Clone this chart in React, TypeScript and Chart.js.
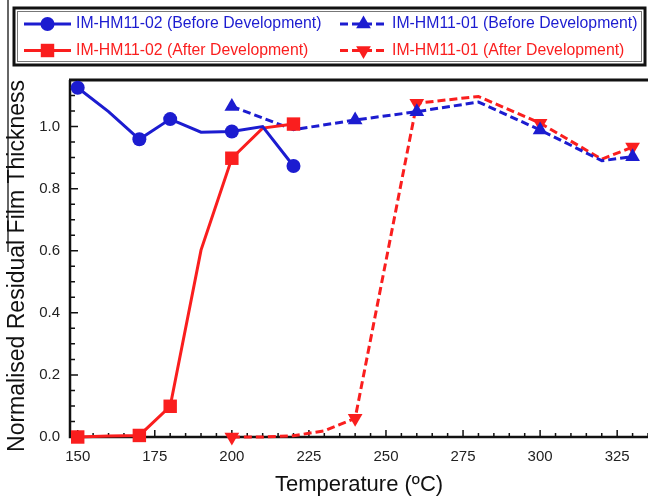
import { useEffect, useRef } from 'react';
import { Chart, registerables, type Plugin } from 'chart.js';
import { drawPoint } from 'chart.js/helpers';

Chart.register(...registerables);
Chart.defaults.font = {
  ...Chart.defaults.font,
  family: "'Liberation Sans', Arial, sans-serif",
};

const BLUE = '#1c1cd0';
const RED = '#fa1e1e';

// IM-HM11-02
const temps02 = [150, 160, 170, 180, 190, 200, 210, 220];
const before02 = [1.125, 1.048, 0.959, 1.024, 0.982, 0.984, 1.0, 0.873];
const after02 = [0.0, 0.003, 0.005, 0.099, 0.602, 0.898, 0.995, 1.008];
const marks02 = [1, 0, 1, 1, 0, 1, 0, 1];

// IM-HM11-01
const tempsBefore01 = [200, 220, 240, 260, 280, 300, 320, 330];
const before01 = [1.065, 0.99, 1.021, 1.048, 1.079, 0.989, 0.89, 0.903];
const marksBefore01 = [1, 0, 1, 1, 0, 1, 0, 1];
const tempsAfter01 = [200, 210, 220, 230, 240, 260, 280, 300, 320, 330];
const after01 = [0.0, 0.0, 0.004, 0.02, 0.06, 1.075, 1.097, 1.011, 0.895, 0.934];
const marksAfter01 = [1, 0, 0, 0, 1, 1, 0, 1, 0, 1];

const xTicks = [150, 175, 200, 225, 250, 275, 300, 325];
const yTicks = [0, 0.2, 0.4, 0.6, 0.8, 1.0];
const xMinorStep = 5;
const yMinorStep = 0.05;

const X_MIN = 147.5;
const X_MAX = 335;
const Y_MAX = 1.15;

function series(
  label: string,
  temps: number[],
  values: number[],
  marks: number[],
  color: string,
  dashed: boolean,
  pointStyle: string,
  rotation: number,
  radius: number,
) {
  return {
    label,
    data: temps.map((t, i) => ({ x: t, y: values[i] })),
    borderColor: color,
    backgroundColor: color,
    borderWidth: 3,
    borderDash: dashed ? [8, 4] : [],
    pointStyle,
    pointRotation: rotation,
    pointRadius: marks.map((m) => (m ? radius : 0)),
    pointHoverRadius: marks.map((m) => (m ? radius : 0)),
    pointBorderWidth: 0,
    pointBackgroundColor: color,
    tension: 0,
    clip: false as const,
  };
}

const framePlugin: Plugin<'line'> = {
  id: 'frame',
  beforeDatasetsDraw(chart) {
    const { ctx, chartArea, scales } = chart;
    const { left, right, top, bottom } = chartArea;
    const x = scales.x;
    const y = scales.y;
    ctx.save();
    ctx.strokeStyle = '#111';
    ctx.lineWidth = 1.5;
    ctx.beginPath();
    for (let v = 150; v <= X_MAX; v += xMinorStep) {
      const px = x.getPixelForValue(v);
      const len = v % 25 === 0 ? 7 : 4;
      ctx.moveTo(px, bottom);
      ctx.lineTo(px, bottom - len);
    }
    for (let i = 1; i * yMinorStep <= Y_MAX; i++) {
      const py = y.getPixelForValue(i * yMinorStep);
      const len = i % 4 === 0 ? 8 : 5;
      ctx.moveTo(left, py);
      ctx.lineTo(left + len, py);
    }
    ctx.stroke();

    ctx.lineWidth = 2.5;
    ctx.beginPath();
    ctx.moveTo(left, top);
    ctx.lineTo(left, bottom);
    ctx.lineTo(right, bottom);
    ctx.stroke();
    ctx.lineWidth = 3;
    ctx.beginPath();
    ctx.moveTo(left - 1, top);
    ctx.lineTo(right, top);
    ctx.stroke();

    // stray figure border on the far left
    ctx.lineWidth = 1.5;
    ctx.strokeStyle = '#333';
    ctx.beginPath();
    ctx.moveTo(8, 0);
    ctx.lineTo(8, 252);
    ctx.stroke();
    ctx.restore();
  },
};

const legendPlugin: Plugin<'line'> = {
  id: 'boxLegend',
  afterDraw(chart) {
    const { ctx } = chart;
    ctx.save();
    ctx.strokeStyle = '#111';
    ctx.lineWidth = 3;
    ctx.strokeRect(14, 8, 631, 57);
    ctx.lineWidth = 1;
    ctx.strokeStyle = '#777';
    ctx.strokeRect(17.5, 11.5, 624, 50);

    const cols = [24, 340];
    const rows = [24, 50.5];
    const slots = [
      [0, 0],
      [0, 1],
      [1, 0],
      [1, 1],
    ];
    chart.data.datasets.forEach((ds: any, i) => {
      const [c, r] = slots[i];
      const x0 = cols[c];
      const yy = rows[r];
      const x1 = x0 + 47;
      ctx.strokeStyle = ds.borderColor;
      ctx.lineWidth = 3;
      ctx.setLineDash(ds.borderDash);
      ctx.beginPath();
      ctx.moveTo(x0, yy);
      ctx.lineTo(x1, yy);
      ctx.stroke();
      ctx.setLineDash([]);
      ctx.fillStyle = ds.borderColor;
      const radius = Math.max(...ds.pointRadius);
      drawPoint(
        ctx,
        { pointStyle: ds.pointStyle, rotation: ds.pointRotation, radius, borderWidth: 0 },
        (x0 + x1) / 2,
        yy,
      );
      ctx.font = "15.8px 'Liberation Sans', Arial, sans-serif";
      ctx.textBaseline = 'middle';
      ctx.textAlign = 'left';
      ctx.fillText(ds.label, x1 + 5, yy);
    });

    // y axis title
    ctx.fillStyle = '#111';
    ctx.font = "23px 'Liberation Sans', Arial, sans-serif";
    ctx.textAlign = 'center';
    ctx.textBaseline = 'middle';
    ctx.translate(18, 266);
    ctx.rotate(-Math.PI / 2);
    ctx.fillText('Normalised Residual Film Thickness', 0, 0);
    ctx.restore();
  },
};

export default function App() {
  const canvas = useRef<HTMLCanvasElement>(null);

  useEffect(() => {
    const current = canvas.current;
    if (!current) return;
    const chart = new Chart(current, {
      type: 'line',
      data: {
        datasets: [
          series('IM-HM11-02 (Before Development)', temps02, before02, marks02, BLUE, false, 'circle', 0, 7),
          series('IM-HM11-02 (After Development)', temps02, after02, marks02, RED, false, 'rect', 0, 9.5),
          series('IM-HM11-01 (Before Development)', tempsBefore01, before01, marksBefore01, BLUE, true, 'triangle', 0, 8.5),
          series('IM-HM11-01 (After Development)', tempsAfter01, after01, marksAfter01, RED, true, 'triangle', 180, 8.5),
        ] as any,
      },
      options: {
        responsive: false,
        animation: false,
        layout: { autoPadding: false, padding: { top: 80, right: 0, left: 0, bottom: 0 } },
        plugins: {
          legend: { display: false },
          tooltip: { enabled: false },
        },
        scales: {
          x: {
            type: 'linear',
            min: X_MIN,
            max: X_MAX,
            grid: { display: false, drawTicks: false },
            border: { display: false },
            afterBuildTicks: (scale) => {
              scale.ticks = xTicks.map((value) => ({ value }));
            },
            afterFit: (scale: any) => {
              scale.height = 61;
              scale.paddingLeft = 0;
              scale.paddingRight = 0;
            },
            ticks: {
              padding: 11,
              color: '#222',
              font: { size: 15 },
              callback: (v) => String(v),
            },
            title: {
              display: true,
              text: 'Temperature (ºC)',
              color: '#111',
              font: { size: 22 },
              padding: { top: 0, bottom: 0 },
            },
          },
          y: {
            type: 'linear',
            min: 0,
            max: Y_MAX,
            grid: { display: false, drawTicks: false },
            border: { display: false },
            afterBuildTicks: (scale) => {
              scale.ticks = yTicks.map((value) => ({ value }));
            },
            afterFit: (scale: any) => {
              scale.width = 70;
              scale.paddingTop = 0;
              scale.paddingBottom = 0;
            },
            ticks: {
              padding: 10,
              color: '#222',
              font: { size: 15 },
              callback: (v) => Number(v).toFixed(1),
            },
          },
        },
      },
      plugins: [framePlugin, legendPlugin],
    });
    return () => chart.destroy();
  }, []);

  return (
    <div style={{ position: 'absolute', left: 0, top: 0, width: 648, height: 498, background: '#fff' }}>
      <canvas ref={canvas} width={648} height={498}></canvas>
    </div>
  );
}
